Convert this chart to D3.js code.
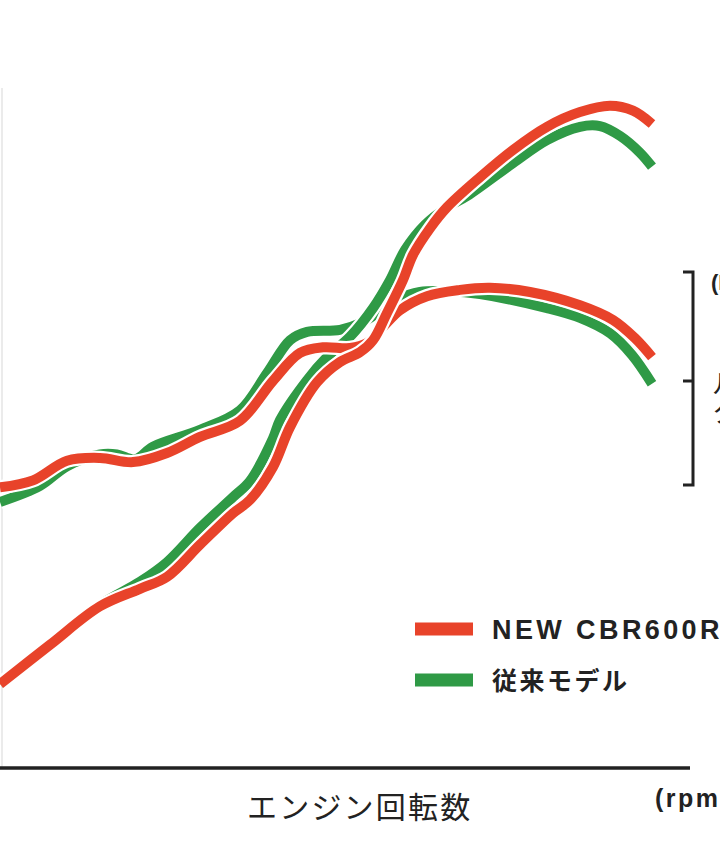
<!DOCTYPE html>
<html><head><meta charset="utf-8">
<script src="https://cdn.jsdelivr.net/npm/d3@7"></script>
<style>html,body{margin:0;padding:0;background:#fff;overflow:hidden}</style>
</head><body>
<svg id="chart" width="720" height="845"></svg>
<script>
// Engine speed (rpm) and relative output values
const newPowerRpm  = [3000,4000,5000,5800,6340,7000,7660,8000,8460,8800,9340,9800,10200,10460,10740,11060,11260,11600,11940,12600,13260,13940,14600,15200,15660,16040];
const newPower     = [12.0,17.6,23.1,25.6,27.3,31.9,36.4,38.3,43.0,48.7,55.1,58.0,59.4,61.1,65.0,69.7,73.3,77.1,80.1,84.4,88.3,91.6,93.7,94.6,93.9,92.0];
const oldPowerRpm  = [3000,4000,5000,5800,6340,7000,7660,8000,8460,8600,9140,9540,10000,10460,10800,11100,11500,11940,12340,13260,13940,14600,15000,15400,15800,16040];
const oldPower     = [12.0,17.6,23.3,26.6,29.4,34.3,38.7,41.0,47.1,49.7,55.4,58.7,61.6,65.7,69.7,74.0,77.6,80.1,81.7,86.4,89.7,91.6,91.7,90.3,87.9,85.9];
const newTorqueRpm = [3000,3660,4340,5000,5660,6340,7000,7800,8460,9000,9460,10000,10340,10660,11000,11540,12200,12800,13600,14600,15260,15700,16040];
const newTorque    = [40.1,41.1,43.9,44.3,43.7,45.0,47.3,49.6,55.3,59.3,60.1,60.0,60.7,63.0,65.4,67.4,68.3,68.6,68.0,66.1,64.0,61.4,58.7];
const oldTorqueRpm = [3000,3800,4340,5000,5340,5700,6060,7000,7800,8340,8800,9140,9800,10260,10940,11400,12000,12600,13940,14600,15200,15640,16040];
const oldTorque    = [38.0,40.3,43.1,44.8,44.8,44.1,45.9,48.3,51.1,56.4,61.1,62.3,62.6,63.7,66.9,68.0,68.1,67.7,65.7,64.3,62.1,59.0,54.9];
const legendLabels = ["NEW CBR600R","従来モデル"];
const xAxisTitle = "エンジン回転数";
const xUnit = "(rpm)";
const yUnit = "(N·m)";
const yTitleChars = ["ト","ル","ク"];

const RED = "#e8432a", GREEN = "#2f9a46";
const svg = d3.select("#chart");
const x = d3.scaleLinear().domain([3000, 16800]).range([0, 690]);
const y = d3.scaleLinear().domain([0, 100]).range([768, 68]);

// faint left frame line
svg.append("line").attr("x1",2).attr("x2",2).attr("y1",88).attr("y2",768)
  .attr("stroke","#e4e4e4").attr("stroke-width",1.5);

const line = d3.line().x(d=>x(d[0])).y(d=>y(d[1])).curve(d3.curveCatmullRom.alpha(0.5));
const zip = (a,b)=>a.map((v,i)=>[v,b[i]]);
const series = [
  {pts: zip(oldTorqueRpm, oldTorque), c: GREEN},
  {pts: zip(oldPowerRpm, oldPower), c: GREEN},
  {pts: zip(newTorqueRpm, newTorque), c: RED},
  {pts: zip(newPowerRpm, newPower), c: RED}
];
series.forEach(s=>{
  svg.append("path").attr("d", line(s.pts)).attr("fill","none")
    .attr("stroke","#fff").attr("stroke-width",14.5).attr("stroke-linejoin","round");
  svg.append("path").attr("d", line(s.pts)).attr("fill","none")
    .attr("stroke", s.c).attr("stroke-width",10).attr("stroke-linejoin","round");
});

// x axis line
const xAxis = d3.axisBottom(x).tickValues([]).tickSizeOuter(0);
const gx = svg.append("g").attr("transform","translate(0,768)").call(xAxis);
gx.select(".domain").attr("stroke","#222").attr("stroke-width",3.5)
  .attr("d","M0,0H"+x(16800));

// right bracket axis
const br = svg.append("g").attr("stroke","#222").attr("stroke-width",3).attr("fill","none");
br.append("path").attr("d","M683,272H693V485H683");
br.append("path").attr("d","M683,381H693");

svg.append("text").attr("x",711).attr("y",290).text(yUnit)
  .attr("font-family","Liberation Sans, Arial, sans-serif").attr("font-weight","bold")
  .attr("font-size",22).attr("fill","#222");
yTitleChars.forEach((ch,i)=>{
  svg.append("text").attr("x",712).attr("y",366+i*28).text(ch)
    .attr("font-family","Noto Sans CJK JP, sans-serif").attr("font-size",27).attr("fill","#222");
});

// legend
const leg = svg.append("g");
[[RED,629,legendLabels[0]],[GREEN,680,legendLabels[1]]].forEach(([c,yy,t],i)=>{
  leg.append("rect").attr("x",415).attr("y",yy-6.5).attr("width",58).attr("height",13).attr("fill",c);
  leg.append("text").attr("x",492).attr("y",yy+10).text(t)
    .attr("font-family", i===0 ? "Liberation Sans, Arial, sans-serif" : "Noto Sans CJK JP, sans-serif")
    .attr("font-weight","bold").attr("font-size", i===0 ? 27 : 25)
    .attr("letter-spacing", i===0 ? 3.4 : 2.5).attr("fill","#222");
});

// axis title
svg.append("text").attr("x",247).attr("y",818).text(xAxisTitle)
  .attr("font-family","Noto Sans CJK JP, sans-serif").attr("font-size",30)
  .attr("letter-spacing",2.2).attr("fill","#222");
svg.append("text").attr("x",655).attr("y",807).text(xUnit)
  .attr("font-family","Liberation Sans, Arial, sans-serif").attr("font-weight","bold")
  .attr("font-size",25).attr("letter-spacing",2.5).attr("fill","#222");
</script>
</body></html>
